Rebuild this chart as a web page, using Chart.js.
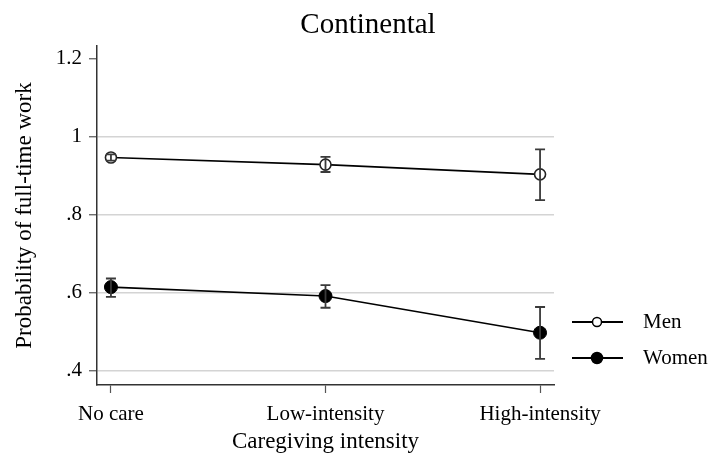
<!DOCTYPE html>
<html><head><meta charset="utf-8">
<script src="https://cdn.jsdelivr.net/npm/chart.js@4"></script>
<style>html,body{margin:0;padding:0;background:#fff}#wrap{width:717px;height:458px;position:relative}</style>
</head><body><div id="wrap"><canvas id="c"></canvas></div>
<script>
const chartTitle = 'Continental';
const xAxisTitle = 'Caregiving intensity';
const yAxisTitle = 'Probability of full-time work';
const categories = ['No care', 'Low-intensity', 'High-intensity'];
const seriesNames = ['Men', 'Women'];
const menValues = [0.947, 0.929, 0.904];
const menLower = [0.939, 0.910, 0.838];
const menUpper = [0.955, 0.949, 0.968];
const womenValues = [0.615, 0.592, 0.498];
const womenLower = [0.590, 0.562, 0.431];
const womenUpper = [0.637, 0.620, 0.564];
const yTickValues = [0.4, 0.6, 0.8, 1, 1.2];
const yTickLabels = ['.4', '.6', '.8', '1', '1.2'];

const FONT = '"Liberation Serif", "Times New Roman", serif';

function pts(vals) { return vals.map((v, i) => ({ x: i, y: v })); }

const errorBars = {
  id: 'errorBars',
  afterDatasetsDraw(chart) {
    const { ctx, scales: { x, y } } = chart;
    ctx.save();
    ctx.strokeStyle = '#3a3a3a';
    ctx.lineWidth = 1.8;
    chart.data.datasets.forEach(ds => {
      ds.lower.forEach((lo, i) => {
        const px = x.getPixelForValue(i);
        const pLo = y.getPixelForValue(lo);
        const pHi = y.getPixelForValue(ds.upper[i]);
        ctx.beginPath();
        ctx.moveTo(px, pLo); ctx.lineTo(px, pHi);
        ctx.moveTo(px - 5, pLo); ctx.lineTo(px + 5, pLo);
        ctx.moveTo(px - 5, pHi); ctx.lineTo(px + 5, pHi);
        ctx.stroke();
      });
    });
    ctx.restore();
  }
};

const extras = {
  id: 'extras',
  afterDraw(chart) {
    const { ctx } = chart;
    ctx.save();
    ctx.fillStyle = '#000';
    ctx.font = '29px ' + FONT;
    ctx.textAlign = 'center';
    ctx.textBaseline = 'alphabetic';
    ctx.fillText(chartTitle, 368, 33);
    const rows = [322, 358];
    chart.data.datasets.forEach((ds, k) => {
      const yy = rows[k];
      ctx.strokeStyle = '#000';
      ctx.lineWidth = 1.8;
      ctx.beginPath(); ctx.moveTo(572, yy); ctx.lineTo(623, yy); ctx.stroke();
      ctx.beginPath();
      ctx.arc(597, yy, k === 0 ? 4.5 : 5.5, 0, Math.PI * 2);
      ctx.fillStyle = k === 0 ? '#fff' : '#000';
      ctx.fill();
      ctx.lineWidth = 1.5;
      ctx.stroke();
      ctx.fillStyle = '#000';
      ctx.font = '21px ' + FONT;
      ctx.textAlign = 'left';
      ctx.textBaseline = 'middle';
      ctx.fillText(ds.label, 643, yy);
    });
    ctx.restore();
  }
};

new Chart(document.getElementById('c'), {
  type: 'line',
  data: {
    datasets: [
      {
        label: seriesNames[0], data: pts(menValues), lower: menLower, upper: menUpper,
        borderColor: '#000', borderWidth: 1.6, pointStyle: 'circle',
        pointRadius: 5.5, pointBorderWidth: 1.6, pointBackgroundColor: '#fff', pointBorderColor: '#222',
        tension: 0
      },
      {
        label: seriesNames[1], data: pts(womenValues), lower: womenLower, upper: womenUpper,
        borderColor: '#000', borderWidth: 1.6, pointStyle: 'circle',
        pointRadius: 6.5, pointBorderWidth: 1, pointBackgroundColor: '#000', pointBorderColor: '#000',
        tension: 0
      }
    ]
  },
  options: {
    responsive: true, maintainAspectRatio: false, animation: false,
    devicePixelRatio: 1,
    layout: { padding: { top: 46, right: 163, left: 0, bottom: 0 } },
    plugins: { legend: { display: false }, title: { display: false }, tooltip: { enabled: false } },
    scales: {
      x: {
        type: 'linear', min: -0.065, max: 2.065,
        afterFit(s) { s.height = 73; },
        afterBuildTicks(s) { s.ticks = categories.map((c, i) => ({ value: i })); },
        ticks: { callback: (v) => categories[v], color: '#000', font: { family: FONT, size: 21 }, padding: 9, maxRotation: 0, autoSkip: false },
        grid: { drawOnChartArea: false, drawTicks: true, tickLength: 8, tickColor: '#555', tickWidth: 1.2 },
        border: { display: true, color: '#333', width: 1.5 },
        title: { display: true, text: xAxisTitle, color: '#000', font: { family: FONT, size: 23 }, padding: { top: 0, bottom: 2 } }
      },
      y: {
        type: 'linear', min: 0.364, max: 1.233,
        afterFit(s) { s.width = 97; },
        afterBuildTicks(s) { s.ticks = yTickValues.map(v => ({ value: v })); },
        ticks: { callback: (v) => yTickLabels[yTickValues.indexOf(v)], color: '#000', font: { family: FONT, size: 21 }, padding: 7 },
        grid: {
          color: (c) => (c.tick && c.tick.value > 1.1) ? 'rgba(0,0,0,0)' : '#d4d4d4',
          lineWidth: 1.5, drawTicks: true, tickLength: 8, tickColor: '#555', tickWidth: 1.2
        },
        border: { display: true, color: '#333', width: 1.5 },
        title: { display: true, text: yAxisTitle, color: '#000', font: { family: FONT, size: 23 }, padding: { top: 11, bottom: 0 } }
      }
    }
  },
  plugins: [errorBars, extras]
});
</script></body></html>
